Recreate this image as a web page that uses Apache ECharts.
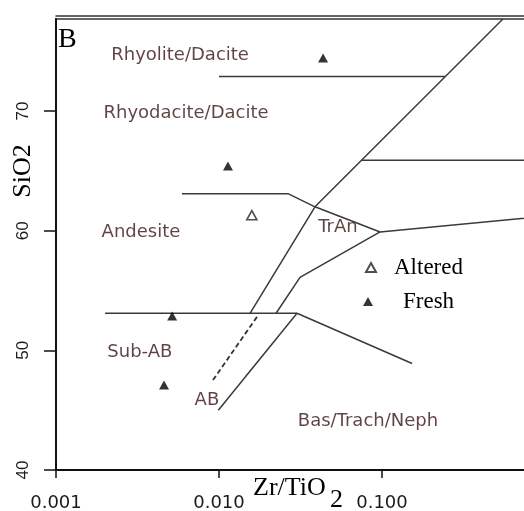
<!DOCTYPE html>
<html>
<head>
<meta charset="utf-8">
<script src="https://cdn.jsdelivr.net/npm/echarts@6/dist/echarts.min.js"></script>
<style>
html, body { margin: 0; padding: 0; background: #fff; }
#chart { width: 524px; height: 511px; }
</style>
</head>
<body>
<div id="chart"></div>
<script>
// samples (Zr/TiO2, SiO2)
const alteredZr = [0.0159];
const alteredSi = [61.3];
const freshZr = [0.0435, 0.01135, 0.00516, 0.0046];
const freshSi = [74.45, 65.42, 52.88, 47.1];

// rock fields, label spots in data units
const fieldNames = ["Rhyolite/Dacite", "Rhyodacite/Dacite", "Andesite", "TrAn", "Sub-AB", "AB", "Bas/Trach/Neph"];
const fieldZr = [0.00577, 0.00628, 0.00332, 0.0537, 0.00327, 0.00843, 0.082];
const fieldSi = [74.7, 69.85, 59.9, 60.3, 49.8, 45.85, 44.1];

// field boundaries [Zr/TiO2, SiO2]
const lineRhyolite = [[0.01, 72.9], [0.244, 72.9]];
const lineMain = [[0.552, 77.7], [0.0388, 62.0], [0.0155, 53.1]];
const lineComendite = [[0.075, 65.9], [1, 65.9]];
const lineAndesite = [[0.00593, 63.1], [0.0265, 63.1], [0.0388, 62.0], [0.0973, 59.9], [1, 61.2]];
const lineTrAn = [[0.0973, 59.9], [0.0314, 56.1], [0.0224, 53.1]];
const lineSubAB = [[0.002, 53.1], [0.0301, 53.1]];
const lineBas = [[0.0301, 53.1], [0.153, 48.9]];
const lineAB = [[0.0301, 53.1], [0.0099, 45.0]];
const lineDashed = [[0.0171, 52.8], [0.00906, 47.4]];

const xTicks = [0.001, 0.01, 0.1];
const yTicks = [40, 50, 60, 70];

const chart = echarts.init(document.getElementById("chart"));

function boundary(data, dashed) {
  return {
    type: "line",
    data: data,
    symbol: "none",
    silent: true,
    z: 2,
    lineStyle: dashed
      ? { color: "#333", width: 1.8, type: [5, 3] }
      : { color: "#3a3a3a", width: 1.5, type: "solid" },
  };
}

const zip = (xs, ys) => xs.map((x, i) => [x, ys[i]]);

const legendText = { fontFamily: "Liberation Serif", fontSize: 23, color: "#000" };

const option = {
  animation: false,
  backgroundColor: "#fff",
  title: {
    text: "B",
    left: 58,
    top: 26,
    padding: 0,
    textStyle: { fontFamily: "Liberation Serif", fontSize: 28, fontWeight: "normal", color: "#000" },
  },
  grid: {
    left: 56,
    right: -21,
    top: 19,
    bottom: 41,
    show: true,
    borderColor: "#333",
    borderWidth: 1.5,
    outerBoundsMode: "none",
  },
  legend: [
    {
      data: ["Altered"],
      left: 365,
      top: 256,
      padding: 0,
      itemWidth: 10,
      itemHeight: 9,
      symbolKeepAspect: true,
      textStyle: Object.assign({ padding: [0, 0, 0, 13] }, legendText),
    },
    {
      data: ["Fresh"],
      left: 363,
      top: 290,
      padding: 0,
      itemWidth: 10,
      itemHeight: 9,
      symbolKeepAspect: true,
      textStyle: Object.assign({ padding: [0, 0, 0, 25] }, legendText),
    },
  ],
  xAxis: [
    {
      type: "log",
      logBase: 10,
      min: 0.001,
      max: 1,
      axisLine: { lineStyle: { color: "#111", width: 2 } },
      axisTick: { length: 8, customValues: xTicks, lineStyle: { color: "#111", width: 1.5 } },
      axisLabel: {
        customValues: xTicks,
        margin: 24,
        fontFamily: "DejaVu Sans",
        fontSize: 18,
        color: "#1a1a1a",
        formatter: (v) => Number(v).toFixed(3),
      },
      splitLine: { show: false },
    },
    {
      type: "value",
      position: "top",
      offset: 3,
      min: 0,
      max: 1,
      axisLine: { show: true, lineStyle: { color: "#333", width: 1.5 } },
      axisTick: { show: false },
      axisLabel: { show: false },
      splitLine: { show: false },
    },
  ],
  yAxis: {
    type: "value",
    min: 40,
    max: 77.7,
    interval: 10,
    axisLine: { lineStyle: { color: "#111", width: 2 } },
    axisTick: { length: 12, customValues: yTicks, lineStyle: { color: "#111", width: 1.5 } },
    axisLabel: {
      customValues: yTicks,
      rotate: 90,
      margin: 24,
      fontFamily: "Liberation Sans",
      fontSize: 17,
      color: "#1a1a1a",
    },
    splitLine: { show: false },
  },
  graphic: [
    {
      type: "text",
      x: 23,
      y: 171,
      rotation: Math.PI / 2,
      style: { text: "SiO2", fontFamily: "Liberation Serif", fontSize: 26, fill: "#000", align: "center", verticalAlign: "middle" },
    },
    {
      type: "text",
      x: 253,
      y: 488,
      style: { text: "Zr/TiO", fontFamily: "Liberation Serif", fontSize: 26, fill: "#000", align: "left", verticalAlign: "middle" },
    },
    {
      type: "text",
      x: 330,
      y: 500,
      style: { text: "2", fontFamily: "Liberation Serif", fontSize: 26, fill: "#000", align: "left", verticalAlign: "middle" },
    },
  ],
  series: [
    boundary(lineRhyolite),
    boundary(lineMain),
    boundary(lineComendite),
    boundary(lineAndesite),
    boundary(lineTrAn),
    boundary(lineSubAB),
    boundary(lineBas),
    boundary(lineAB),
    boundary(lineDashed, true),
    {
      type: "scatter",
      silent: true,
      symbolSize: 0,
      z: 3,
      data: fieldNames.map((n, i) => ({ name: n, value: [fieldZr[i], fieldSi[i]] })),
      label: {
        show: true,
        position: "inside",
        formatter: "{b}",
        fontFamily: "DejaVu Sans",
        fontSize: 18,
        color: "#3a1414",
      },
    },
    {
      name: "Altered",
      type: "scatter",
      symbol: "triangle",
      symbolSize: [10, 9],
      z: 5,
      data: zip(alteredZr, alteredSi),
      itemStyle: { color: "#fff", borderColor: "#222", borderWidth: 1.6 },
    },
    {
      name: "Fresh",
      type: "scatter",
      symbol: "triangle",
      symbolSize: [10, 9],
      z: 5,
      data: zip(freshZr, freshSi),
      itemStyle: { color: "#000" },
    },
  ],
};

chart.setOption(option);
</script>
</body>
</html>
